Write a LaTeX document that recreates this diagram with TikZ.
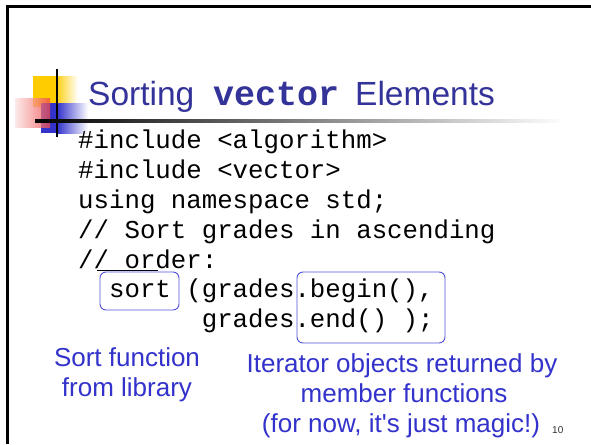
\documentclass[tikz,border=0pt]{standalone}
\usepackage{fontspec}
\setmainfont{Liberation Sans}
\setmonofont{Liberation Mono}
\newfontfamily\plainsans{Liberation Sans}[Ligatures=TeXOff]
\definecolor{titleblue}{RGB}{51,51,153}
\definecolor{labelblue}{RGB}{51,51,204}
\definecolor{boxblue}{RGB}{80,80,220}
\definecolor{decoyellow}{RGB}{255,204,0}
\definecolor{decored}{RGB}{240,70,70}
\definecolor{decoblue}{RGB}{51,51,204}
\tikzset{
  codeline/.style={anchor=base west, inner sep=0pt, font=\fontsize{25.75}{30}\selectfont\ttfamily, text=black},
  titletext/.style={anchor=base west, inner sep=0pt, text=titleblue, font=\fontsize{33.5}{40}\selectfont},
  labeltext/.style={anchor=base, inner sep=0pt, text=labelblue, font=\fontsize{26}{30}\selectfont},
  callout/.style={draw=boxblue, line width=0.9pt, rounded corners=6pt}
}
\begin{document}
\begin{tikzpicture}[x=1pt,y=-1pt]
\useasboundingbox (0,0) rectangle (591,444);
\fill[white] (0,0) rectangle (591,444);
% frame
\draw[line width=3pt, black] (7.5,444) -- (7.5,6.5) -- (591,6.5);
% decoration
\fill[decoyellow] (33,76) rectangle (55,107);
\shade[left color=decoyellow, right color=white] (55,76) rectangle (78,107);
\fill[decoblue] (41,103) rectangle (57,133);
\shade[left color=decoblue, right color=white] (57,103) rectangle (88,133);
\shade[left color=decored!15, right color=decored, opacity=0.75] (15,98) rectangle (50,127);
\draw[line width=1.6pt, black] (57,69) -- (57,137);
\shade[left color=black, right color=white] (35,119.5) rectangle (565,122.5);
% title
\node[titletext] (t1) at (88,105) {Sorting};
\node[titletext, font=\fontsize{35}{40}\selectfont\ttfamily\bfseries] (t2) at (213,105) {vector};
\node[titletext] (t3) at (355,105) {Elements};
% code
\node[codeline] (c1) at (78,148) {\#include <algorithm>};
\node[codeline] (c2) at (78,178) {\#include <vector>};
\node[codeline] (c3) at (78,208) {using namespace std;};
\node[codeline] (c4) at (78,238) {// Sort grades in ascending};
\node[codeline] (c5) at (78,268) {// order:};
\node[codeline] (c6a) at (108.9,297) {sort};
\node[codeline] (c6b) at (186.15,297) {(grades.begin(),};
\node[codeline] (c7) at (201.6,327) {grades.end() );};
\draw[line width=0.7pt, black] (97,270) -- (158,270);
% callout boxes
\draw[callout] (100,272) rectangle (179,310);
\draw[callout] (297,272) rectangle (445,343);
% labels
\node[labeltext] (l1) at (127,366) {Sort function};
\node[labeltext] (l2) at (127,396) {from library};
\node[labeltext] (l3) at (402,372) {Iterator objects returned by};
\node[labeltext] (l4) at (404,402) {member functions};
\node[labeltext, font=\fontsize{26}{30}\selectfont\plainsans] (l5) at (401,432) {(for now, it's just magic!)};
\node[anchor=base west, inner sep=0pt, text=black!80, font=\fontsize{10}{12}\selectfont] (pg) at (552,433) {10};
\end{tikzpicture}
\end{document}
